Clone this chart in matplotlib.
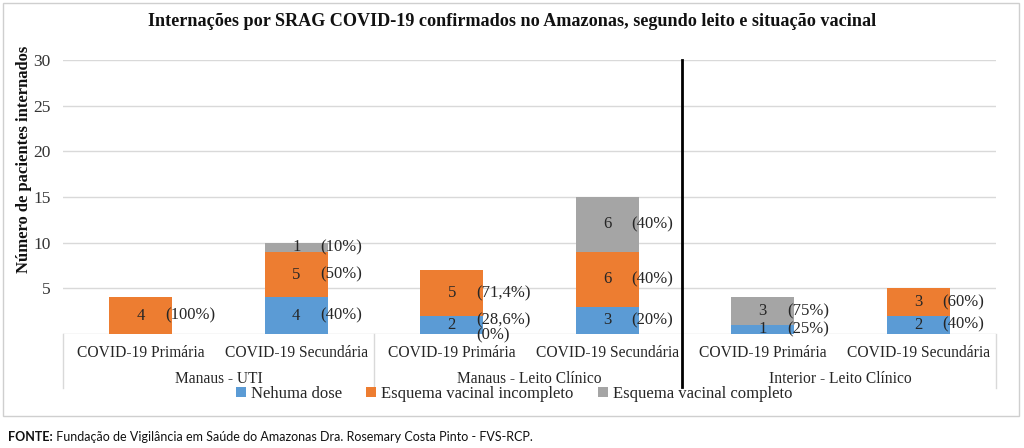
import matplotlib
matplotlib.use("Agg")
import matplotlib.pyplot as plt
from matplotlib.patches import Rectangle, Patch
import numpy as np

# ---------------- data ----------------
title = "Internações por SRAG COVID-19 confirmados no Amazonas, segundo leito e situação vacinal"
subcategories = ["COVID-19 Primária", "COVID-19 Secundária",
                 "COVID-19 Primária", "COVID-19 Secundária",
                 "COVID-19 Primária", "COVID-19 Secundária"]
groups = ["Manaus - UTI", "Manaus - Leito Clínico", "Interior - Leito Clínico"]
series_names = ["Nehuma dose", "Esquema vacinal incompleto", "Esquema vacinal completo"]
nenhuma = [0, 4, 2, 3, 1, 2]
incompleto = [4, 5, 5, 6, 0, 3]
completo = [0, 1, 0, 6, 3, 0]
pct_nenhuma = ["", "(40%)", "(28,6%)", "(20%)", "(25%)", "(40%)"]
pct_incompleto = ["(100%)", "(50%)", "(71,4%)", "(40%)", "", "(60%)"]
pct_completo = ["", "(10%)", "(0%)", "(40%)", "(75%)", ""]
yticks = [5, 10, 15, 20, 25, 30]
ylabel = "Número de pacientes internados"
source_bold = "FONTE:"
source_text = " Fundação de Vigilância em Saúde do Amazonas Dra. Rosemary Costa Pinto - FVS-RCP."

# ---------------- style ----------------
colors = ["#5B9BD5", "#ED7D31", "#A5A5A5"]
serif = ["Liberation Serif", "DejaVu Serif"]
grid_c = "#d9d9d9"
W, H = 1024, 448

fig = plt.figure(figsize=(W / 100, H / 100), dpi=100)
ax = fig.add_axes([63 / W, 114 / H, 933 / W, 274 / H])

x = np.arange(len(subcategories))
bw = 0.405
series = [nenhuma, incompleto, completo]
pcts = [pct_nenhuma, pct_incompleto, pct_completo]
bottom = np.zeros(len(x))
nudge = {(0, 2): 0.5}  # (series, bar): vertical label shift in data units

for s, (vals, col, pl) in enumerate(zip(series, colors, pcts)):
    vals = np.array(vals, dtype=float)
    ax.bar(x, vals, bw, bottom=bottom, color=col, zorder=3)
    for i, v in enumerate(vals):
        yc = bottom[i] + v / 2
        if v > 0:
            ax.text(x[i], yc, f"{int(v)}", ha="center", va="center",
                    fontsize=12, family=serif, color="#262626", zorder=5)
        if pl[i]:
            yp = yc + nudge.get((s, i), 0) if v > 0 else -0.15
            ax.text(x[i] + bw / 2 - 0.045, yp, pl[i], ha="left", va="center",
                    fontsize=12, family=serif, color="#262626", zorder=5,
                    clip_on=False)
    bottom += vals

ax.set_xlim(-0.5, len(x) - 0.5)
ax.set_ylim(0, 30)
ax.set_yticks(yticks)
ax.set_yticklabels([str(t) for t in yticks], family=serif, fontsize=12.5,
                   color="#333333")
ax.tick_params(axis="y", length=0, pad=9)
ax.set_xticks([])
ax.yaxis.grid(True, color=grid_c, lw=1, zorder=0)
for sp in ax.spines.values():
    sp.set_visible(False)
ax.axhline(0, color=grid_c, lw=1, zorder=2)

# multi-level category axis
xt = ax.get_xaxis_transform()
ph = 274.0
for i, lab in enumerate(subcategories):
    ax.text(x[i], -19 / ph, lab, transform=xt, ha="center", va="center",
            fontsize=11.2, family=serif, color="#262626", clip_on=False)
for g, lab in enumerate(groups):
    ax.text(2 * g + 0.5, -45 / ph, lab, transform=xt, ha="center", va="center",
            fontsize=11.2, family=serif, color="#262626", clip_on=False)
for xb in [-0.5, 1.5, 5.5]:
    ax.plot([xb, xb], [0, -54 / ph], transform=xt, color=grid_c, lw=1,
            clip_on=False)
ax.plot([3.48, 3.48], [1.0, -53 / ph], transform=xt, color="black", lw=2,
        clip_on=False, zorder=6)

# titles / labels
fig.text(0.5, 1 - 22 / H, title, ha="center", va="center", fontsize=13.1,
         fontweight="bold", family=serif, color="#111111")
fig.text(24 / W, 1 - 159 / H, ylabel, rotation=90, ha="center", va="center",
         fontsize=12, fontweight="bold", family=serif, color="#111111")

# legend
handles = [Patch(facecolor=c, edgecolor="none") for c in colors]
leg = fig.legend(handles, series_names, loc="center", ncol=3,
                 bbox_to_anchor=(514 / W, 1 - 394 / H), frameon=False,
                 prop={"family": serif, "size": 12}, handlelength=0.6,
                 handleheight=0.6, handletextpad=0.3, columnspacing=1.45,
                 borderpad=0)
for t in leg.get_texts():
    t.set_color("#262626")

# chart frame
fig.patches.append(Rectangle((3 / W, 32 / H), 1016 / W, 413 / H,
                             transform=fig.transFigure, fill=False,
                             edgecolor="#cfcfcf", lw=1))

# source footer
t1 = fig.text(8 / W, 1 - 437 / H, source_bold, ha="left", va="center",
              fontsize=9, fontweight="bold", family=["Lato", "DejaVu Sans"],
              color="#111111")
fig.canvas.draw()
bb = t1.get_window_extent()
fig.text(bb.x1 / W, 1 - 437 / H, source_text, ha="left", va="center",
         fontsize=9, family=["Lato", "DejaVu Sans"], color="#111111")

fig.savefig("out.png", dpi=100)
